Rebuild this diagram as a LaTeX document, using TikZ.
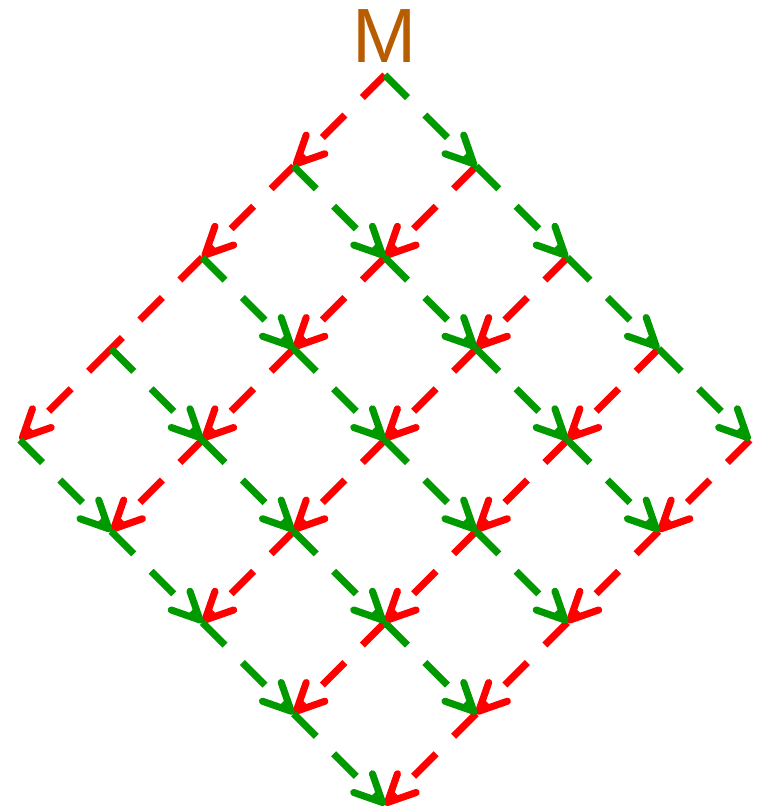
\documentclass[tikz,border=0pt]{standalone}
\usepackage{fontspec}
\setmainfont{Liberation Sans}
\usetikzlibrary{arrows.meta}
\definecolor{edgered}{RGB}{255,0,0}
\definecolor{edgegreen}{RGB}{0,153,0}
\definecolor{labelorange}{RGB}{184,92,0}

\begin{document}
\begin{tikzpicture}[
    link/.style={line width=2.2pt, dash pattern=on 0.35cm off 0.27cm},
    redlink/.style={link, draw=edgered},
    greenlink/.style={link, draw=edgegreen},
    arrowed/.style={-{Straight Barb[length=3mm, width=2.9mm, line cap=round, line join=round]}}
]
\useasboundingbox (-4.219,0.822) rectangle (4.164,-8.077);

% Lattice points
\foreach \i in {0,...,4}
  \foreach \j in {0,...,4}
    \coordinate (p\i\j) at (\j-\i, -\i-\j);

\node [anchor=base, text=labelorange, inner sep=0pt, font=\fontsize{24}{28}\selectfont] (label) at (0,0.14) {M};

% Red links (down-left)
\foreach \i/\k in {0/1,1/2,2/3,3/4}
  \foreach \j in {0,...,4} {
    \ifnum\i\j=20
      \draw [redlink] (p\i\j) -- (p\k\j);
    \else
      \draw [redlink, arrowed] (p\i\j) -- (p\k\j);
    \fi
  }

% Green links (down-right)
\foreach \j/\k in {0/1,1/2,2/3,3/4}
  \foreach \i in {0,...,4}
    \draw [greenlink, arrowed] (p\i\j) -- (p\i\k);

\end{tikzpicture}
\end{document}
